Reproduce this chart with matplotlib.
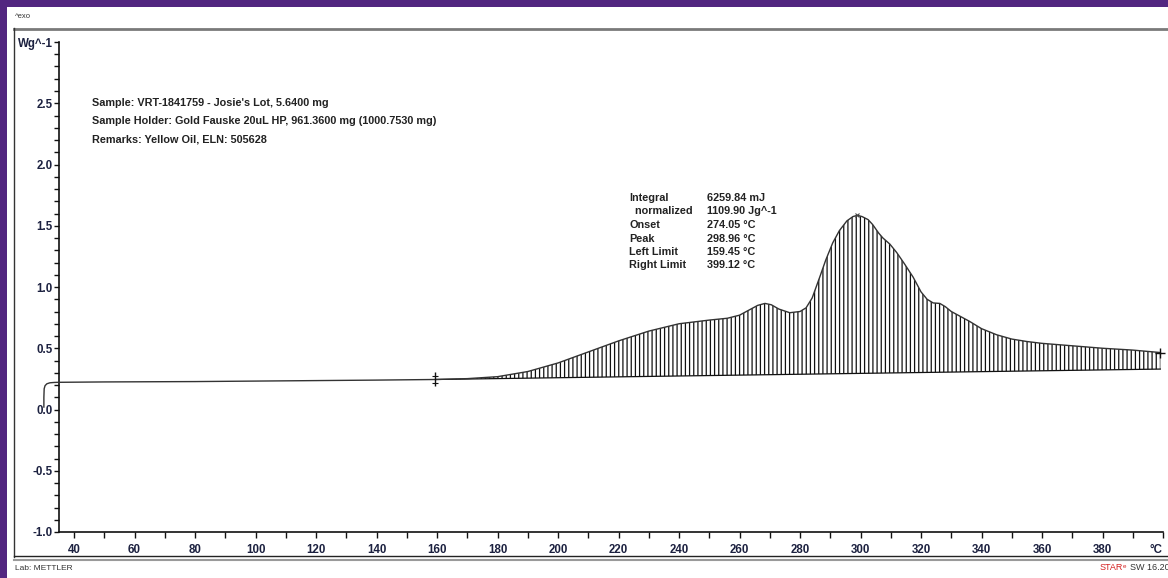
import numpy as np
import matplotlib.pyplot as plt
from matplotlib.lines import Line2D
from matplotlib.patches import Rectangle
from matplotlib.ticker import MultipleLocator

plt.rcParams['font.family'] = ['Liberation Sans', 'DejaVu Sans']
plt.rcParams['hatch.linewidth'] = 0.9

# DSC heat-flow trace (exo up), W/g versus sample temperature in degC
temperature = [30.0, 30.0, 30.1, 30.4, 31.0, 32.0, 33.5, 35.0, 50.0, 80.0,
               100.0, 120.0, 140.0, 159.45, 170.0, 180.0, 190.0, 200.0, 210.0,
               220.0, 230.0, 240.0, 250.0, 256.0, 260.0, 263.0, 266.0, 268.4,
               270.5, 273.0, 276.6, 280.0, 282.0, 284.0, 286.5, 288.5, 290.8,
               293.0, 295.5, 297.5, 298.96, 300.5, 302.5, 304.0, 306.0, 307.4,
               309.7, 312.0, 314.5, 317.4, 320.0, 322.0, 324.0, 326.2, 328.0,
               330.0, 333.0, 336.0, 340.0, 345.0, 350.0, 355.0, 360.0, 370.0,
               380.0, 390.0, 399.12]
heat_flow = [0.02, 0.10, 0.17, 0.195, 0.210, 0.218, 0.221, 0.222, 0.225, 0.228,
             0.232, 0.236, 0.240, 0.245, 0.252, 0.268, 0.31, 0.38, 0.47,
             0.56, 0.64, 0.70, 0.73, 0.745, 0.77, 0.81, 0.85, 0.866,
             0.855, 0.82, 0.79, 0.80, 0.83, 0.91, 1.08, 1.22, 1.36,
             1.46, 1.54, 1.575, 1.585, 1.575, 1.55, 1.51, 1.44, 1.40,
             1.35, 1.28, 1.19, 1.08, 0.96, 0.90, 0.87, 0.866, 0.84,
             0.80, 0.76, 0.72, 0.66, 0.61, 0.575, 0.555, 0.54, 0.52,
             0.50, 0.485, 0.465]

# Integration limits and the straight integration baseline between them
left_limit, right_limit = 159.45, 399.12
baseline_values = [0.245, 0.33]
peak_temp, peak_value = 298.96, 1.585

sample_lines = ["Sample: VRT-1841759 - Josie's Lot, 5.6400 mg",
                "Sample Holder: Gold Fauske 20uL HP, 961.3600 mg (1000.7530 mg)",
                "Remarks: Yellow Oil, ELN: 505628"]
result_names = ["Integral", "  normalized", "Onset", "Peak", "Left Limit", "Right Limit"]
result_values = ["6259.84 mJ", "1109.90 Jg^-1", "274.05 \u00b0C", "298.96 \u00b0C",
                 "159.45 \u00b0C", "399.12 \u00b0C"]

x_ticks = list(range(40, 401, 20))
x_tick_labels = [str(t) for t in x_ticks[:-1]] + ["\u00b0C"]
y_ticks = [-1.0, -0.5, 0.0, 0.5, 1.0, 1.5, 2.0, 2.5, 3.0]
y_tick_labels = ["-1.0", "-0.5", "0.0", "0.5", "1.0", "1.5", "2.0", "2.5", "Wg^-1"]

W, H = 1168, 578
fig = plt.figure(figsize=(W / 100, H / 100), dpi=100)
fig.patch.set_facecolor('white')


def fx(px):
    return px / W


def fy(py):
    return 1 - py / H


# window border and report frame
purple = '#522680'
fig.add_artist(Rectangle((0, fy(7)), 1, 1 - fy(7), transform=fig.transFigure,
                         color=purple, lw=0, zorder=0))
fig.add_artist(Rectangle((0, 0), fx(7), 1, transform=fig.transFigure,
                         color=purple, lw=0, zorder=0))
fig.add_artist(Line2D([fx(14), 1.0], [fy(28.5), fy(28.5)], transform=fig.transFigure,
                      color='#7a7a7a', lw=2.0))
fig.add_artist(Line2D([fx(14), fx(14)], [fy(28), fy(557)], transform=fig.transFigure,
                      color='#333333', lw=1.0))
fig.add_artist(Line2D([fx(14), 1.0], [fy(556), fy(556)], transform=fig.transFigure,
                      color='#222222', lw=1.0))
fig.add_artist(Line2D([fx(14), 1.0], [fy(559.5), fy(559.5)], transform=fig.transFigure,
                      color='#9a9a9a', lw=1.5))

fig.text(fx(15), fy(17), "^exo", fontsize=5.5, color='#333333', va='center', ha='left')
fig.text(fx(15), fy(568), "Lab: METTLER", fontsize=6, color='#333333', va='center', ha='left')
fig.text(fx(1100), fy(568), "STAR", fontsize=6.5, color='#d42020', va='center', ha='left')
fig.text(fx(1123), fy(566), "e", fontsize=4.5, color='#d42020', va='center', ha='left')
fig.text(fx(1130), fy(568), "SW 16.20", fontsize=6.5, color='#333333', va='center', ha='left')

ax = fig.add_axes([fx(59), fy(532), fx(1163) - fx(59), fy(42) - fy(532)])
ax.set_xlim(35, 400)
ax.set_ylim(-1.0, 3.0)
ax.set_facecolor('none')

t = np.asarray(temperature)
hf = np.asarray(heat_flow)
sel = (t >= left_limit) & (t <= right_limit)
base = np.interp(t[sel], [left_limit, right_limit], baseline_values)
ax.fill_between(t[sel], base, hf[sel], facecolor='none', edgecolor='#111111',
                hatch='||||', linewidth=0, zorder=2)
ax.plot([left_limit, right_limit], baseline_values, color='#111111', lw=0.9, zorder=3)
ax.plot(t, hf, color='#333333', lw=1.0, zorder=4, clip_on=False)

# limit and peak markers
ax.plot([left_limit], [baseline_values[0]], marker='|', ms=10, mew=1.0, color='#111111', zorder=5)
ax.plot([left_limit], [baseline_values[0] + 0.03], marker='_', ms=4, mew=0.8, color='#111111', zorder=5)
ax.plot([left_limit], [baseline_values[0] - 0.03], marker='_', ms=4, mew=0.8, color='#111111', zorder=5)
ax.plot([right_limit], [heat_flow[-1]], marker='+', ms=7, mew=1.0, color='#111111', zorder=5,
        clip_on=False)
ax.plot([peak_temp], [peak_value], marker='x', ms=3.5, mew=0.8, color='#444444', zorder=5)

for s in ['top', 'right']:
    ax.spines[s].set_visible(False)
for s in ['left', 'bottom']:
    ax.spines[s].set_linewidth(1.2)
    ax.spines[s].set_color('#111111')

ax.set_xticks(x_ticks)
ax.set_xticklabels(x_tick_labels)
ax.set_yticks(y_ticks)
ax.set_yticklabels(y_tick_labels)
ax.xaxis.set_minor_locator(MultipleLocator(10))
ax.yaxis.set_minor_locator(MultipleLocator(0.1))
ax.tick_params(which='both', direction='out', color='#111111', width=1.0)
ax.tick_params(axis='x', which='both', length=4.5, pad=4)
ax.tick_params(axis='y', which='both', length=3.5, pad=1)
for lab in ax.get_xticklabels() + ax.get_yticklabels():
    lab.set_fontweight('bold')
    lab.set_fontsize(8.3)
    lab.set_color('#1c2140')
# the unit label sits at the last tick, kept inside the frame
ax.get_xticklabels()[-1].set_horizontalalignment('right')

# sample description
for i, line in enumerate(sample_lines):
    fig.text(fx(92), fy(103 + 18 * i), line, fontsize=7.8, fontweight='bold',
             color='#222222', va='center', ha='left')

# integration results table
for i, (name, val) in enumerate(zip(result_names, result_values)):
    yy = fy(198 + 13.5 * i)
    fig.text(fx(629), yy, name, fontsize=7.8, fontweight='bold', color='#222222',
             va='center', ha='left')
    fig.text(fx(707), yy, val, fontsize=7.8, fontweight='bold', color='#222222',
             va='center', ha='left')

fig.savefig('out.png', dpi=100)
